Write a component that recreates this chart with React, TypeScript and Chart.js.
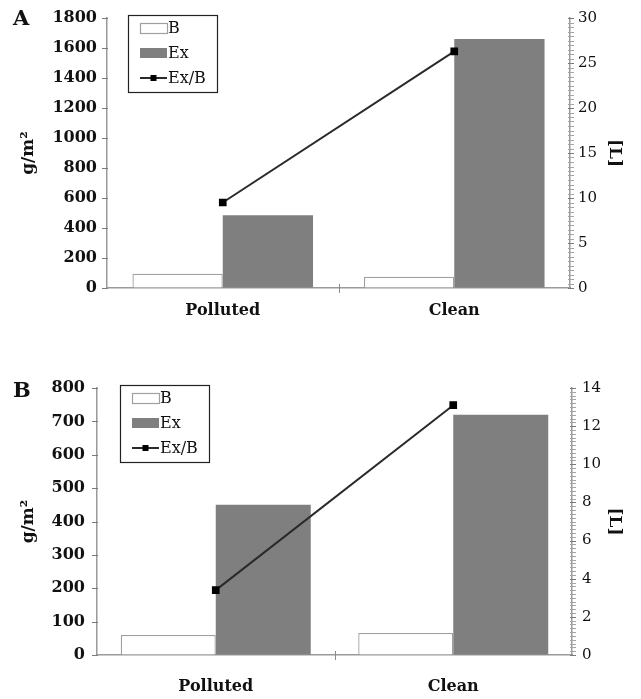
import React, { useEffect, useRef } from 'react';
import { Chart, registerables } from 'chart.js';

Chart.register(...registerables);

const categories = ['Polluted', 'Clean'];
const seriesNames = ['B', 'Ex', 'Ex/B'];

// Panel A
const aB = [95, 75];
const aEx = [485, 1660];
const aRatio = [9.5, 26.3];
const aLeftTicks = { min: 0, max: 1800, step: 200 };
const aRightTicks = { min: 0, max: 30, step: 0.5, labelEvery: 5 };

// Panel B
const bB = [60, 66];
const bEx = [450, 720];
const bRatio = [3.4, 13.1];
const bLeftTicks = { min: 0, max: 800, step: 100 };
const bRightTicks = { min: 0, max: 14, step: 0.2, labelEvery: 2 };

const FONT = "'DejaVu Serif', serif";
const INK = '#111';
const AXIS = '#9a9a9a';
const CLEAR = 'rgba(0,0,0,0)';

const boxLegend = {
  id: 'boxLegend',
  afterDatasetsDraw(chart: any, _args: any, opts: any) {
    if (!opts || !opts.show) return;
    const ctx = chart.ctx;
    const { left, top } = chart.chartArea;
    const x = Math.round(left + opts.dx);
    const y = Math.round(top + opts.dy);
    const w = 89;
    const h = 77;
    ctx.save();
    ctx.fillStyle = '#fff';
    ctx.fillRect(x, y, w, h);
    ctx.strokeStyle = '#222';
    ctx.lineWidth = 1.2;
    ctx.strokeRect(x + 0.5, y + 0.5, w, h);
    ctx.font = `16px ${FONT}`;
    ctx.textBaseline = 'middle';
    ctx.textAlign = 'left';
    chart.data.datasets.forEach((ds: any, i: number) => {
      const cy = y + 13 + i * 25;
      const sx = x + 12;
      const sw = 27;
      if (ds.type === 'line') {
        ctx.strokeStyle = ds.borderColor;
        ctx.lineWidth = 2;
        ctx.beginPath();
        ctx.moveTo(sx, cy);
        ctx.lineTo(sx + sw, cy);
        ctx.stroke();
        ctx.fillStyle = ds.pointBackgroundColor;
        ctx.fillRect(sx + sw / 2 - 3, cy - 3, 6, 6);
      } else {
        ctx.fillStyle = ds.backgroundColor;
        ctx.fillRect(sx, cy - 5, sw, 10);
        if (ds.borderWidth) {
          ctx.strokeStyle = ds.borderColor;
          ctx.lineWidth = 1.2;
          ctx.strokeRect(sx + 0.5, cy - 5 + 0.5, sw, 10);
        }
      }
      ctx.fillStyle = INK;
      ctx.fillText(ds.label, sx + sw + 1, cy + 1);
    });
    ctx.restore();
  },
};

// Short tick marks crossing the axes, taken from the scales' own ticks.
const axisMarks = {
  id: 'axisMarks',
  afterDraw(chart: any) {
    const ctx = chart.ctx;
    ctx.save();
    ctx.lineWidth = 1;
    ['y', 'y1'].forEach((id) => {
      const s = chart.scales[id];
      if (!s) return;
      const isRight = s.position === 'right';
      const ax = isRight ? s.left : s.right;
      s.ticks.forEach((t: any) => {
        const py = Math.round(s.getPixelForValue(t.value)) + 0.5;
        const major = t.label !== '' && t.label !== undefined;
        ctx.strokeStyle = major ? '#7a7a7a' : '#a5a5a5';
        ctx.beginPath();
        if (isRight) {
          ctx.moveTo(ax - 2, py);
          ctx.lineTo(ax + 4, py);
        } else {
          ctx.moveTo(ax - 5, py);
          ctx.lineTo(ax + 1, py);
        }
        ctx.stroke();
      });
    });
    const xs = chart.scales.x;
    if (xs) {
      const n = xs.ticks.length;
      const yb = xs.top;
      ctx.strokeStyle = '#8a8a8a';
      for (let i = 1; i < n; i++) {
        const px = Math.round((xs.getPixelForTick(i - 1) + xs.getPixelForTick(i)) / 2) + 0.5;
        ctx.beginPath();
        ctx.moveTo(px, yb - 4);
        ctx.lineTo(px, yb + 5);
        ctx.stroke();
      }
    }
    ctx.restore();
  },
};

type Layout = {
  height: number;
  padTop: number;
  leftW: number;
  rightW: number;
  xH: number;
  leftTickPad: number;
  rightTickPad: number;
  xTickPad: number;
  legendDx: number;
  legendDy: number;
  catPct: number;
};

function Panel(props: {
  b: number[];
  ex: number[];
  ratio: number[];
  left: { min: number; max: number; step: number };
  right: { min: number; max: number; step: number; labelEvery: number };
  layout: Layout;
}) {
  const ref = useRef<HTMLCanvasElement | null>(null);
  const { b, ex, ratio, left, right, layout } = props;

  useEffect(() => {
    if (!ref.current) return;
    const isMajor = (v: number) =>
      Math.abs(v / right.labelEvery - Math.round(v / right.labelEvery)) < 1e-6;
    const chart = new Chart(ref.current, {
      type: 'bar',
      data: {
        labels: categories,
        datasets: [
          {
            type: 'bar',
            label: seriesNames[0],
            data: b,
            backgroundColor: '#ffffff',
            borderColor: '#a0a0a0',
            borderWidth: 1.3,
            yAxisID: 'y',
            order: 2,
            categoryPercentage: layout.catPct,
            barPercentage: 1.0,
          } as any,
          {
            type: 'bar',
            label: seriesNames[1],
            data: ex,
            backgroundColor: '#7f7f7f',
            borderWidth: 0,
            yAxisID: 'y',
            order: 2,
            categoryPercentage: layout.catPct,
            barPercentage: 1.0,
          } as any,
          {
            type: 'line',
            label: seriesNames[2],
            data: ratio,
            borderColor: '#2a2a2a',
            borderWidth: 2,
            pointStyle: 'rect',
            pointRadius: 4,
            pointBackgroundColor: '#000',
            pointBorderColor: '#000',
            yAxisID: 'y1',
            order: 0,
            tension: 0,
          } as any,
        ],
      },
      options: {
        responsive: false,
        animation: false,
        layout: { padding: { top: layout.padTop, left: 0, right: 0, bottom: 0 } },
        plugins: {
          legend: { display: false },
          tooltip: { enabled: false },
          boxLegend: { show: true, dx: layout.legendDx, dy: layout.legendDy },
        } as any,
        scales: {
          x: {
            grid: {
              display: true,
              drawOnChartArea: false,
              offset: true,
              tickLength: 5,
              color: CLEAR,
            },
            border: { color: AXIS, width: 1.5 },
            ticks: {
              color: INK,
              font: { family: FONT, size: 16, weight: 'bold' },
              padding: layout.xTickPad,
              maxRotation: 0,
            },
            afterFit: (s: any) => {
              s.height = layout.xH;
            },
          },
          y: {
            position: 'left',
            min: left.min,
            max: left.max,
            grid: { display: true, drawOnChartArea: false, tickLength: 5, color: CLEAR },
            border: { color: AXIS, width: 1.5 },
            ticks: {
              stepSize: left.step,
              maxTicksLimit: 100,
              color: INK,
              font: { family: FONT, size: 16, weight: 'bold' },
              padding: layout.leftTickPad,
              callback: (v: any) => String(Math.round(Number(v))),
            },
            title: {
              display: true,
              text: 'g/m²',
              color: INK,
              font: { family: FONT, size: 17, weight: 'bold' },
              padding: { top: 18, bottom: 0 },
            },
            afterFit: (s: any) => {
              s.width = layout.leftW;
            },
          },
          y1: {
            position: 'right',
            min: right.min,
            max: right.max,
            grid: { display: true, drawOnChartArea: false, tickLength: 5, color: CLEAR },
            border: { color: AXIS, width: 1.5 },
            ticks: {
              stepSize: right.step,
              maxTicksLimit: 200,
              autoSkip: false,
              color: INK,
              font: { family: FONT, size: 15 },
              padding: layout.rightTickPad,
              callback: (v: any) => (isMajor(Number(v)) ? String(Math.round(Number(v))) : ''),
            },
            title: {
              display: true,
              text: '[L]',
              color: INK,
              font: { family: FONT, size: 17, weight: 'bold' },
              padding: { top: 16, bottom: 0 },
            },
            afterFit: (s: any) => {
              s.width = layout.rightW;
            },
          },
        },
      } as any,
      plugins: [boxLegend as any, axisMarks as any],
    });
    return () => chart.destroy();
  }, []);

  return <canvas ref={ref} width={641} height={layout.height} style={{ display: 'block' }} />;
}

const layoutA: Layout = {
  height: 335,
  padTop: 18,
  leftW: 107,
  rightW: 71,
  xH: 47,
  leftTickPad: 5,
  rightTickPad: 3,
  xTickPad: 8,
  legendDx: 21,
  legendDy: -3,
  catPct: 0.78,
};

const layoutB: Layout = {
  height: 359,
  padTop: 48,
  leftW: 97,
  rightW: 69,
  xH: 44,
  leftTickPad: 7,
  rightTickPad: 5,
  xTickPad: 17,
  legendDx: 23,
  legendDy: -3,
  catPct: 0.8,
};

const letterStyle: React.CSSProperties = {
  position: 'absolute',
  left: 13,
  fontFamily: FONT,
  fontWeight: 'bold',
  fontSize: 21,
  lineHeight: '21px',
  color: INK,
  margin: 0,
};

export default function App() {
  return (
    <div
      style={{
        position: 'absolute',
        left: 0,
        top: 0,
        width: 641,
        height: 699,
        background: '#fff',
        overflow: 'hidden',
      }}
    >
      <div style={{ position: 'absolute', left: 0, top: 0, width: 641, height: layoutA.height }}>
        <Panel b={aB} ex={aEx} ratio={aRatio} left={aLeftTicks} right={aRightTicks} layout={layoutA} />
      </div>
      <div style={{ position: 'absolute', left: 0, top: 340, width: 641, height: layoutB.height }}>
        <Panel b={bB} ex={bEx} ratio={bRatio} left={bLeftTicks} right={bRightTicks} layout={layoutB} />
      </div>
      <div style={{ ...letterStyle, top: 7 }}>A</div>
      <div style={{ ...letterStyle, top: 379 }}>B</div>
    </div>
  );
}
